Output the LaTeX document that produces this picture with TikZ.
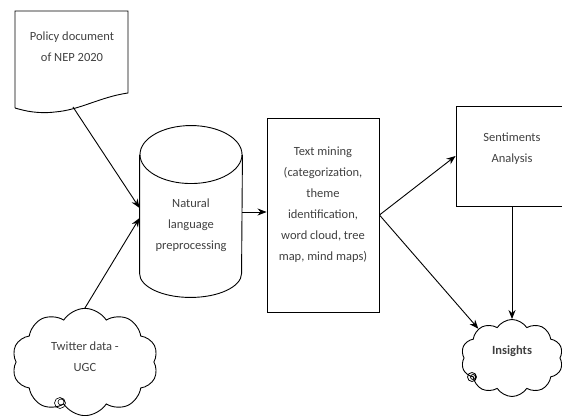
\documentclass[tikz,border=0pt]{standalone}
\usepackage{fontspec}
\setmainfont{Carlito}
\usetikzlibrary{shapes.symbols,arrows.meta}

\begin{document}
\begin{tikzpicture}[x=1pt,y=1pt,line width=0.9pt,
 every node/.style={font=\fontsize{12.5}{21}\selectfont,text=black!75,align=center},
 box/.style={draw,rectangle,inner sep=0pt},
 puff/.style={draw,cloud,cloud puffs=10,cloud puff arc=115,inner sep=0pt},
 tail/.style={-{Stealth[length=9pt,width=7pt]}}]
\useasboundingbox (0,0) rectangle (562,415);
\node (doc) at (72,368) {Policy document\\of NEP 2020};
\draw (15,307) -- (15,404) -- (128,404) -- (128,322) .. controls (100,318) and (80,305) .. (55,303) .. controls (38,301) and (25,304) .. (15,307);
\coordinate (docend) at (73,308);
\node[minimum width=102,minimum height=118,inner sep=0pt,text height=72.8pt] (nlp) at (191,201) {Natural\\language\\preprocessing};
\draw (nlp.north) ellipse (51 and 29);
\draw (nlp.north west) -- (nlp.south west) arc (180:360:51 and 24) -- (nlp.north east);
\node[box,minimum width=112,minimum height=194,text depth=23pt] (tm) at (323,200) {Text mining\\(categorization,\\theme\\identification,\\word cloud, tree\\map, mind maps)};
\node[box,minimum width=112,minimum height=100,text depth=17.5pt] (sa) at (512,259) {Sentiments\\Analysis};
\node[puff,minimum width=146,minimum height=84,text depth=10pt] (tw) at (85,53) {Twitter data -\\UGC};
\node[puff,minimum width=102,minimum height=77,text depth=16pt,font=\fontsize{12.5}{21}\selectfont\bfseries] (ins) at (512,57) {Insights};
\draw[tail] (docend) -- ([yshift=6pt]nlp.west);
\draw[tail] (tw.north) -- ([yshift=-4pt]nlp.west);
\draw[tail] ([yshift=2pt]nlp.east) -- ([yshift=2pt]nlp.east -| tm.west);
\draw[tail] (tm.east) -- (sa.west);
\draw[tail] (tm.east) -- (ins.139);
\draw[tail] (sa.south) -- (sa.south |- ins.north);
\draw[line width=0.6pt] (60,12) circle (5.5) (61,13) circle (3);
\draw[line width=0.8pt] (472,38) circle (4.5) (473,38) circle (2.5);
\end{tikzpicture}
\end{document}
